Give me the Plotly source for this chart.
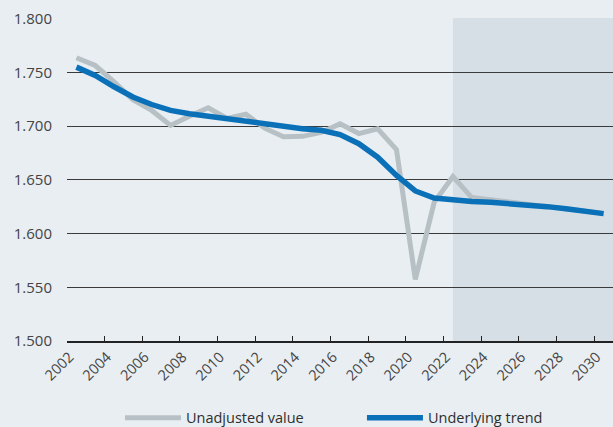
import plotly.graph_objects as go

years = list(range(2002, 2031))
unadjusted = [1.7635, 1.7563, 1.741, 1.7245, 1.7145, 1.7006, 1.709, 1.717, 1.707, 1.711,
              1.698, 1.690, 1.6904, 1.694, 1.702, 1.693, 1.6975, 1.678, 1.5573, 1.629,
              1.653, 1.6334, 1.6315, 1.629, 1.6265, 1.625, 1.623, 1.621, 1.6185]
trend = [1.7548, 1.747, 1.7365, 1.727, 1.720, 1.7145, 1.7115, 1.709, 1.7068, 1.704,
         1.7015, 1.699, 1.6975, 1.696, 1.692, 1.6836, 1.671, 1.654, 1.6396, 1.633,
         1.631, 1.6297, 1.629, 1.628, 1.6265, 1.625, 1.623, 1.621, 1.6185]
x_tick_years = list(range(2002, 2031, 2))
x_tick_labels = [str(y) for y in x_tick_years]
y_ticks = [1.5, 1.55, 1.6, 1.65, 1.7, 1.75, 1.8]
y_labels = ["1.500", "1.550", "1.600", "1.650", "1.700", "1.750", "1.800"]
forecast_start = 2022

x_range = [years[0] - 0.5, years[-1] + 0.5]
boundary_ticks = [y - 0.5 for y in x_tick_years]

fig = go.Figure()
fig.add_trace(go.Scatter(x=years, y=unadjusted, mode="lines", name="Unadjusted value",
                         line=dict(color="#b7c1c5", width=5)))
fig.add_trace(go.Scatter(x=years, y=trend, mode="lines", name="Underlying trend",
                         line=dict(color="#0a71b9", width=5.5)))

fig.add_shape(type="rect", xref="x", yref="paper", x0=forecast_start, x1=x_range[1],
              y0=0, y1=1, fillcolor="#d6dfe5", line=dict(width=0), layer="below")

fig.update_layout(
    width=613, height=427,
    margin=dict(l=67, r=0, t=18, b=86, autoexpand=False),
    paper_bgcolor="#e9eef2", plot_bgcolor="#e9eef2",
    font=dict(family="Open Sans", color="#3c3c3c"),
    showlegend=True,
    legend=dict(orientation="h", x=0.097, xanchor="left", y=-0.238, yanchor="middle",
                font=dict(size=14.5, color="#2e2e2e"), itemwidth=56,
                entrywidth=171, entrywidthmode="pixels", bgcolor="rgba(0,0,0,0)"),
    xaxis=dict(range=x_range, tickvals=x_tick_years, ticktext=x_tick_labels,
               tickangle=-45, ticks="", showline=True, linecolor="#222", linewidth=1.5,
               showgrid=False, zeroline=False, automargin=False, ticklabelshift=-7,
               tickfont=dict(size=14.5, color="#444"), fixedrange=True),
    xaxis2=dict(range=x_range, overlaying="x", side="bottom", anchor="y",
                tickvals=boundary_ticks, ticks="inside", ticklen=5, tickcolor="#222",
                tickwidth=1.2, showticklabels=False, showgrid=False, zeroline=False,
                showline=False, automargin=False, fixedrange=True),
    yaxis=dict(range=[1.5, 1.8005], tickvals=y_ticks, ticktext=y_labels, showgrid=True,
               gridcolor="#3a3a3a", gridwidth=1, zeroline=False, ticks="",
               ticklabelstandoff=14, automargin=False,
               tickfont=dict(size=15, color="#444"), fixedrange=True),
)
# invisible trace to activate the boundary-tick axis
fig.add_trace(go.Scatter(x=x_range, y=[None, None], xaxis="x2", showlegend=False,
                         hoverinfo="skip", mode="lines"))

fig.write_html("out.html", config={"displayModeBar": False},
               post_script="document.body.style.margin='0';document.body.style.overflow='hidden';")
